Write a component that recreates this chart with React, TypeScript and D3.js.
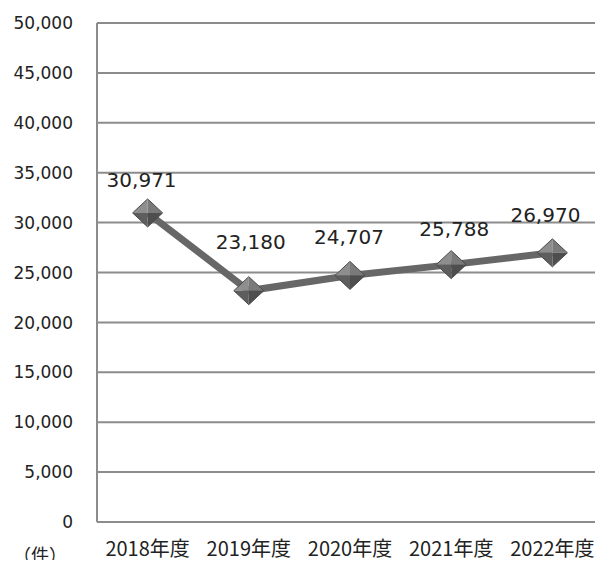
import { useEffect, useRef } from 'react';
import * as d3 from 'd3';

const categories = ['2018年度', '2019年度', '2020年度', '2021年度', '2022年度'];
const values = [30971, 23180, 24707, 25788, 26970];
const yTicks = [0, 5000, 10000, 15000, 20000, 25000, 30000, 35000, 40000, 45000, 50000];
const unitLabel = '（件）';

// small manual nudges for the data labels, as in the source chart
const labelNudge = [
  [-6, -33],
  [2, -49],
  [-1, -39],
  [3, -36],
  [-7, -38],
];

const width = 603;
const height = 568;
const margin = { left: 97, right: 0, top: 23, bottom: 46 };
const numFont = '"DejaVu Sans", "Noto Sans CJK JP", sans-serif';
const jpFont = '"Noto Sans CJK JP", "DejaVu Sans", sans-serif';

function LineChart() {
  const svgRef = useRef<SVGSVGElement>(null);

  useEffect(() => {
    if (svgRef.current === null) return;
    const svg = d3.select(svgRef.current);
    svg.selectAll('*').remove();

    const x = d3
      .scaleBand()
      .domain(categories)
      .range([margin.left, width - margin.right]);

    const y = d3
      .scaleLinear()
      .domain([0, 50000])
      .range([height - margin.bottom, margin.top]);

    const fmt = d3.format(',');

    // grid
    svg
      .append('g')
      .selectAll('line')
      .data(yTicks)
      .enter()
      .append('line')
      .attr('x1', margin.left)
      .attr('x2', width - 3)
      .attr('y1', (d) => y(d))
      .attr('y2', (d) => y(d))
      .attr('stroke', '#8c8c8c')
      .attr('stroke-width', 2);

    svg
      .append('line')
      .attr('x1', margin.left)
      .attr('x2', margin.left)
      .attr('y1', y(50000))
      .attr('y2', y(0))
      .attr('stroke', '#8c8c8c')
      .attr('stroke-width', 2);

    // y labels
    svg
      .append('g')
      .selectAll('text')
      .data(yTicks)
      .enter()
      .append('text')
      .attr('x', 73)
      .attr('y', (d) => y(d))
      .attr('dy', '0.36em')
      .attr('text-anchor', 'end')
      .attr('font-family', numFont)
      .attr('font-size', 17)
      .attr('fill', '#222')
      .text((d) => fmt(d));

    // x labels
    svg
      .append('g')
      .selectAll('text')
      .data(categories)
      .enter()
      .append('text')
      .attr('x', (d) => (x(d) || 0) + x.bandwidth() / 2)
      .attr('y', 549)
      .attr('dy', '0.36em')
      .attr('text-anchor', 'middle')
      .attr('font-family', jpFont)
      .attr('font-size', 20)
      .attr('fill', '#222')
      .text((d) => d);

    svg
      .append('text')
      .attr('x', 40)
      .attr('y', 556)
      .attr('dy', '0.36em')
      .attr('text-anchor', 'middle')
      .attr('font-family', jpFont)
      .attr('font-size', 18)
      .attr('fill', '#222')
      .text(unitLabel);

    const pts = categories.map((c, i) => ({
      cx: (x(c) || 0) + x.bandwidth() / 2,
      cy: y(values[i]),
      v: values[i],
      i,
    }));

    const line = d3
      .line<{ cx: number; cy: number }>()
      .x((d) => d.cx)
      .y((d) => d.cy);

    svg
      .append('path')
      .attr('d', line(pts))
      .attr('fill', 'none')
      .attr('stroke', '#676767')
      .attr('stroke-width', 7)
      .attr('stroke-linejoin', 'round');

    // diamond markers with bevel facets
    const rx = 15;
    const ry = 14;
    const facets = [
      { p: [[-rx, 0], [0, -ry], [0, 0]], c: '#8e8e8e' },
      { p: [[0, -ry], [rx, 0], [0, 0]], c: '#7a7a7a' },
      { p: [[rx, 0], [0, ry], [0, 0]], c: '#4e4e4e' },
      { p: [[0, ry], [-rx, 0], [0, 0]], c: '#5e5e5e' },
    ];
    const mk = svg
      .append('g')
      .selectAll('g')
      .data(pts)
      .enter()
      .append('g')
      .attr('transform', (d) => `translate(${d.cx},${d.cy})`);
    facets.forEach((f) => {
      mk.append('path')
        .attr('d', 'M' + f.p.map((q) => q.join(',')).join('L') + 'Z')
        .attr('fill', f.c);
    });
    mk.append('path')
      .attr('d', `M${-rx},0L0,${-ry}L${rx},0L0,${ry}Z`)
      .attr('fill', 'none')
      .attr('stroke', '#4a4a4a')
      .attr('stroke-width', 1);

    // data labels
    svg
      .append('g')
      .selectAll('text')
      .data(pts)
      .enter()
      .append('text')
      .attr('x', (d) => d.cx + labelNudge[d.i][0])
      .attr('y', (d) => d.cy + labelNudge[d.i][1])
      .attr('dy', '0.36em')
      .attr('text-anchor', 'middle')
      .attr('font-family', numFont)
      .attr('font-size', 20)
      .attr('fill', '#222')
      .text((d) => fmt(d.v));
  }, []);

  return <svg ref={svgRef} width={width} height={height} style={{ display: 'block' }} />;
}

export default function App() {
  return (
    <div style={{ margin: -8 }}>
      <LineChart />
    </div>
  );
}
